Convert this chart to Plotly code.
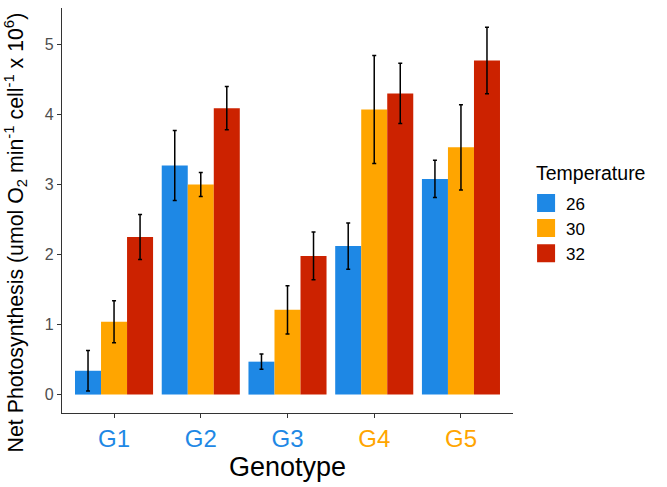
import plotly.graph_objects as go

genotypes = ["G1", "G2", "G3", "G4", "G5"]
tick_colors = ["#1E88E5", "#1E88E5", "#1E88E5", "#FFA500", "#FFA500"]
temps = ["26", "30", "32"]
colors = ["#1E88E5", "#FFA500", "#CC2200"]

vals_26 = [0.34, 3.27, 0.47, 2.12, 3.08]
err_26 = [0.29, 0.50, 0.11, 0.33, 0.265]
vals_30 = [1.04, 3.00, 1.21, 4.07, 3.53]
err_30 = [0.30, 0.17, 0.345, 0.77, 0.61]
vals_32 = [2.25, 4.09, 1.98, 4.30, 4.77]
err_32 = [0.32, 0.31, 0.34, 0.43, 0.475]

series = [(vals_26, err_26), (vals_30, err_30), (vals_32, err_32)]

fig = go.Figure()
for t, c, (v, e) in zip(temps, colors, series):
    fig.add_trace(go.Bar(
        x=genotypes, y=v, name=t, showlegend=False, legendgroup=t,
        marker=dict(color=c, line=dict(width=0)),
        error_y=dict(type="data", array=e, visible=True, color="black",
                     thickness=1.5, width=2),
    ))
# legend keys
for t, c in zip(temps, colors):
    fig.add_trace(go.Scatter(
        x=[None], y=[None], mode="markers", name=t, legendgroup=t,
        marker=dict(symbol="square", size=16, color=c, line=dict(color=c, width=2)),
    ))

ticktext = [f"<span style='color:{tc}'>{g}</span>" for g, tc in zip(genotypes, tick_colors)]

fig.update_layout(
    width=667, height=487,
    margin=dict(l=62, r=154, t=8, b=74, autoexpand=False),
    plot_bgcolor="white", paper_bgcolor="white",
    barmode="group", bargap=0.1, bargroupgap=0,
    font=dict(family="Liberation Sans, Arial, sans-serif", color="black"),
    showlegend=True,
    legend=dict(
        font=dict(size=17, color="black"),
        x=1.029, xanchor="left", y=0.562, yanchor="top",
        tracegroupgap=0, itemwidth=30,
    ),
    annotations=[
        dict(
            text="Temperature", xref="paper", yref="paper",
            x=1.046, y=0.593, xanchor="left", yanchor="middle",
            showarrow=False, font=dict(size=19.5, color="black"),
        ),
        dict(
            text="Net Photosynthesis (umol O<sub>2</sub> min<sup>-1</sup> cell<sup>-1</sup> x 10<sup>6</sup>)",
            xref="paper", yref="paper", x=-0.1042, y=0.446,
            xanchor="center", yanchor="middle", textangle=-90,
            showarrow=False, font=dict(size=21.3, color="black"),
        ),
    ],
    xaxis=dict(
        tickmode="array", tickvals=genotypes, ticktext=ticktext,
        tickfont=dict(size=24),
        title=dict(text="Genotype", font=dict(size=27, color="black"), standoff=4),
        showline=True, linecolor="#333333", linewidth=1.2,
        ticks="outside", ticklen=4, tickcolor="#333333",
        showgrid=False, zeroline=False,
        range=[-0.6, 4.6],
    ),
    yaxis=dict(
        range=[-0.263, 5.52],
        tickvals=[0, 1, 2, 3, 4, 5],
        tickfont=dict(size=16, color="#4D4D4D"),
        showline=True, linecolor="#333333", linewidth=1.2,
        ticks="outside", ticklen=4, tickcolor="#333333",
        showgrid=False, zeroline=False,
    ),
)

fig.write_html("out.html", config={"displayModeBar": False},
               post_script="document.body.style.margin='0';")
